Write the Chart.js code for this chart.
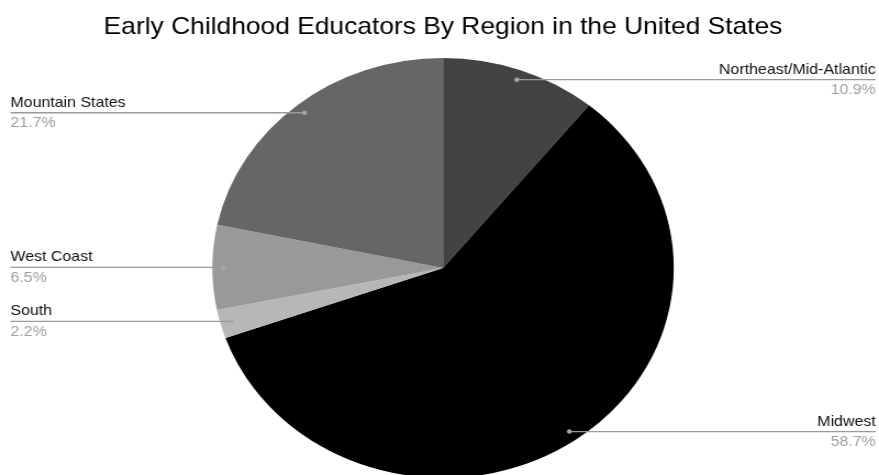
<!DOCTYPE html>
<html>
<head>
<meta charset="utf-8">
<script src="https://cdn.jsdelivr.net/npm/chart.js@4.4.1/dist/chart.umd.min.js"></script>
<style>
  html, body { margin: 0; padding: 0; background: #fff; }
  #wrap { width: 879px; height: 475px; overflow: hidden; position: relative; }
  #pie { position: absolute; left: 0; top: 0; width: 800px; height: 478px;
         transform: scaleX(1.09875); transform-origin: 0 0; }
</style>
</head>
<body>
<div id="wrap"><canvas id="pie" width="800" height="478"></canvas></div>
<script>
var title = 'Early Childhood Educators By Region in the United States';
var regions = ['Northeast/Mid-Atlantic', 'Midwest', 'South', 'West Coast', 'Mountain States'];
var shares = [10.9, 58.7, 2.2, 6.5, 21.7];
var sliceColors = ['#434343', '#000000', '#b7b7b7', '#999999', '#666666'];

var FONT = '"Liberation Sans", Arial, sans-serif';

// leader lines with name above and percentage below, drawn after the arcs
var sideLabels = {
    id: 'sideLabels',
    afterDatasetsDraw: function(chart){
        var ctx = chart.ctx,
            meta = chart.getDatasetMeta(0),
            total = shares.reduce(function(a, b){ return a + b; }, 0),
            leftX = 9.5, rightX = 797;
        ctx.save();
        meta.data.forEach(function(arc, i){
            var mid = (arc.startAngle + arc.endAngle) / 2,
                r = arc.outerRadius * 0.952,
                px = arc.x + Math.cos(mid) * r,
                py = arc.y + Math.sin(mid) * r,
                right = Math.cos(mid) > 0,
                endX = right ? rightX : leftX,
                pct = (shares[i] / total * 100).toFixed(1) + '%';

            ctx.strokeStyle = '#9a9a9a';
            ctx.lineWidth = 1.3;
            ctx.beginPath();
            ctx.moveTo(px, py);
            ctx.lineTo(endX, py);
            ctx.stroke();

            ctx.fillStyle = '#a8a8a8';
            ctx.beginPath();
            ctx.arc(px, py, 2.2, 0, Math.PI * 2);
            ctx.fill();

            ctx.textAlign = right ? 'right' : 'left';
            ctx.textBaseline = 'alphabetic';
            ctx.font = '14.5px ' + FONT;
            ctx.fillStyle = '#111111';
            ctx.fillText(regions[i], endX, py - 6);
            ctx.fillStyle = '#a0a0a0';
            ctx.fillText(pct, endX, py + 14.5);
        });
        ctx.restore();
    }
};

new Chart(document.getElementById('pie').getContext('2d'), {
    type: 'pie',
    data: {
        labels: regions,
        datasets: [{
            data: shares,
            backgroundColor: sliceColors,
            borderWidth: 0
        }]
    },
    options: {
        responsive: false,
        animation: false,
        layout: { padding: { left: 6.4, right: 0, top: 0, bottom: 0 } },
        plugins: {
            legend: { display: false },
            tooltip: { enabled: false },
            title: {
                display: true,
                text: title,
                color: '#000000',
                font: { family: FONT, size: 24, weight: 'normal', lineHeight: 1.2 },
                padding: { top: 13.2, bottom: 16 }
            }
        }
    },
    plugins: [sideLabels]
});
</script>
</body>
</html>
